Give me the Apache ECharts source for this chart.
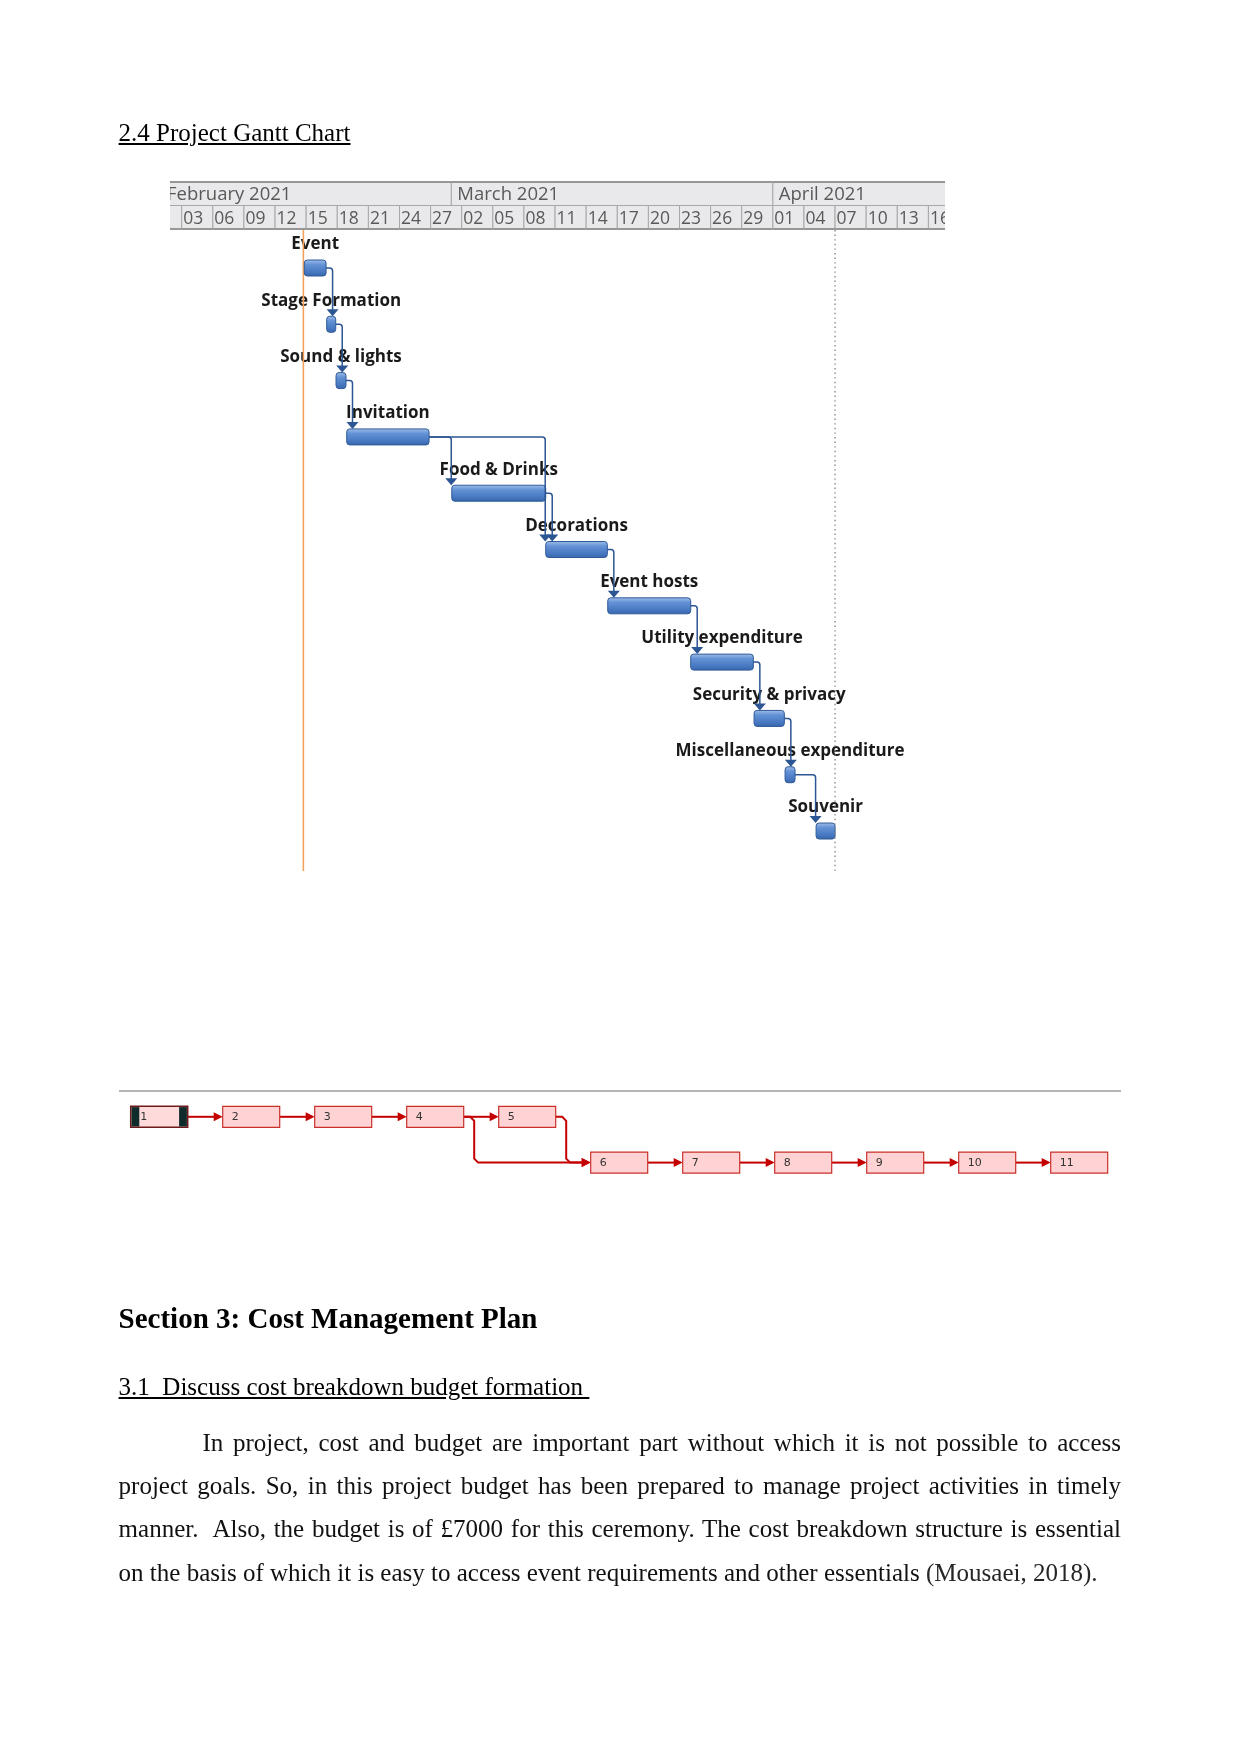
<!DOCTYPE html>
<html>
<head>
<meta charset="utf-8">
<title>2.4 Project Gantt Chart</title>
<script src="https://cdn.jsdelivr.net/npm/echarts@6/dist/echarts.min.js"></script>
<style>
html,body{margin:0;padding:0;background:#fff;}
#page{position:relative;width:1241px;height:1754px;overflow:hidden;background:#fff;}
#chart{position:absolute;left:0;top:0;width:1241px;height:1754px;}
.doc{position:absolute;font-family:"Liberation Serif","Times New Roman",serif;color:#000;white-space:nowrap;}
.pl{position:absolute;font-family:"Liberation Serif","Times New Roman",serif;color:#111;font-size:25px;line-height:30px;text-align:justify;text-align-last:justify;white-space:normal;}
.rule{position:absolute;left:118.6px;top:1090px;width:1002.4px;height:0;border-top:2px solid #b5b5b5;}
</style>
</head>
<body>
<div id="page">
  <div id="chart"></div>
  <div class="doc" style="left:118.6px;top:117.6px;font-size:25px;line-height:30px;text-decoration:underline;">2.4 Project Gantt Chart</div>
  <div class="rule"></div>
  <div class="doc" style="left:118.6px;top:1299.7px;font-size:29px;line-height:36px;font-weight:bold;">Section 3: Cost Management Plan</div>
  <div class="doc" style="left:118.6px;top:1372.1px;font-size:25px;line-height:30px;text-decoration:underline;white-space:pre;">3.1  Discuss cost breakdown budget formation </div>
  <div class="pl" style="left:202.5px;top:1427.6px;width:918.5px;">In project, cost and budget are important part without which it is not possible to access</div>
  <div class="pl" style="left:118.6px;top:1471px;width:1002.4px;">project goals. So, in this project budget has been prepared to manage project activities in timely</div>
  <div class="pl" style="left:118.6px;top:1514.4px;width:1002.4px;">manner.&nbsp; Also, the budget is of £7000 for this ceremony. The cost breakdown structure is essential</div>
  <div class="pl" style="left:118.6px;top:1557.8px;width:1002.4px;text-align:left;text-align-last:left;">on the basis of which it is easy to access event requirements and other essentials <span style="color:#262626;">(Mousaei, 2018).</span></div>
</div>
<script>
// ---------- Gantt data (time in days from 1 Feb 2021 00:00) ----------
const taskNames = ['Event','Stage Formation','Sound & lights','Invitation','Food & Drinks','Decorations','Event hosts','Utility expenditure','Security & privacy','Miscellaneous expenditure','Souvenir'];
const taskStart = [13.82, 15.98, 16.88, 17.91, 28.04, 37.10, 43.08, 51.08, 57.19, 60.18, 63.17];
const taskEnd   = [15.92, 16.85, 17.84, 25.85, 37.10, 43.04, 51.08, 57.12, 60.11, 61.14, 65.00];
const taskLinks = [[0,1],[1,2],[2,3],[3,4],[3,5],[4,5],[5,6],[6,7],[7,8],[8,9],[9,10]];
const currentDay = 13.73;
const finishDay = 65.0;
const viewStart = 0.87;
const viewEnd = 75.6;

// timescale header
const monthStarts = [0, 28, 59];
const monthEnds   = [28, 59, 89];
const monthLabels = ['February 2021','March 2021','April 2021'];
const dayTickStarts = [-1, 2, 5, 8, 11, 14, 17, 20, 23, 26, 29, 32, 35, 38, 41, 44, 47, 50, 53, 56, 59, 62, 65, 68, 71, 74];
const dayTickLabels = ['31','03','06','09','12','15','18','21','24','27','02','05','08','11','14','17','20','23','26','29','01','04','07','10','13','16'];

// ---------- Network diagram data ----------
const nodeLabels = ['1','2','3','4','5','6','7','8','9','10','11'];
const nodeCols   = [0,1,2,3,4,5,6,7,8,9,10];
const nodeRows   = [0,0,0,0,0,1,1,1,1,1,1];
const nodeLinks  = [[0,1],[1,2],[2,3],[3,4],[3,5],[4,5],[5,6],[6,7],[7,8],[8,9],[9,10]];

const chart = echarts.init(document.getElementById('chart'), null, {renderer:'canvas'});

const MONTH_FONT = '18.5px "Open Sans", "DejaVu Sans", sans-serif';
const DAY_FONT = '17.5px "Open Sans", "DejaVu Sans", sans-serif';
const LABEL_FONT = 'bold 17px "Open Sans", "Noto Sans", sans-serif';
const NODE_FONT = '11px "DejaVu Sans", sans-serif';

function headerRender(labels, row, padX, font, dy, topLine, bottomLine) {
  return function (params, api) {
    const x0 = api.coord([api.value(0), row])[0];
    const x1 = api.coord([api.value(1), row])[0];
    const y0 = api.coord([viewStart, row])[1];
    const y1 = api.coord([viewStart, row + 1])[1];
    const children = [
      {type:'rect', shape:{x:x0, y:y0, width:x1-x0, height:y1-y0},
       style:{fill:'#e9e9eb', stroke:'#a8a8a8', lineWidth:1}},
      {type:'text', x:x0+padX, y:(y0+y1)/2+dy,
       style:{text:labels[api.value(2)], font:font, fill:'#595959', align:'left', verticalAlign:'middle'}}
    ];
    if (topLine) children.push({type:'line', shape:{x1:x0, y1:y0+1, x2:x1, y2:y0+1}, style:{stroke:'#969696', lineWidth:2}});
    if (bottomLine) children.push({type:'line', shape:{x1:x0, y1:y1-1, x2:x1, y2:y1-1}, style:{stroke:'#969696', lineWidth:2}});
    return {type:'group', children};
  };
}

const barFill = new echarts.graphic.LinearGradient(0,0,0,1,[
  {offset:0, color:'#a3c0e9'},
  {offset:0.3, color:'#6492d6'},
  {offset:0.75, color:'#4677c0'},
  {offset:1, color:'#3765a9'}
]);

const option = {
  animation:false,
  backgroundColor:'transparent',
  grid:[
    {left:170, top:181, width:775, height:49},
    {left:170, top:230, width:775, height:641},
    {left:159.2, top:1116.8, width:920, height:45.8}
  ],
  xAxis:[
    {type:'value', gridIndex:0, min:viewStart, max:viewEnd, show:false},
    {type:'value', gridIndex:1, min:viewStart, max:viewEnd, show:false},
    {type:'value', gridIndex:2, min:0, max:10, show:false}
  ],
  yAxis:[
    {type:'value', gridIndex:0, min:0, max:2, inverse:true, show:false},
    {type:'value', gridIndex:1, min:-0.675, max:10.71, inverse:true, show:false},
    {type:'value', gridIndex:2, min:0, max:1, inverse:true, show:false}
  ],
  series:[
    {
      type:'custom', name:'Months', xAxisIndex:0, yAxisIndex:0, clip:true, z:2,
      data: monthStarts.map((s,i)=>[s, monthEnds[i], i]),
      renderItem: headerRender(monthLabels, 0, 6, MONTH_FONT, 1.5, true, false)
    },
    {
      type:'custom', name:'Days', xAxisIndex:0, yAxisIndex:0, clip:true, z:2,
      data: dayTickStarts.map((s,i)=>[s, i < dayTickStarts.length-1 ? dayTickStarts[i+1] : s+3, i]),
      renderItem: headerRender(dayTickLabels, 1, 1.5, DAY_FONT, 1, false, true)
    },
    {
      type:'custom', name:'Task names', xAxisIndex:1, yAxisIndex:1, z:2,
      data: taskNames.map((n,i)=>[(taskStart[i]+taskEnd[i])/2, i]),
      renderItem(params, api) {
        const p = api.coord([api.value(0), api.value(1)]);
        return {type:'text', x:p[0], y:p[1]-23.5,
          style:{text:taskNames[params.dataIndex], font:LABEL_FONT, fill:'#1a1a1a', align:'center', verticalAlign:'middle'}};
      }
    },
    {
      type:'custom', name:'Current date', xAxisIndex:1, yAxisIndex:1, z:3,
      data:[[currentDay, 0]],
      renderItem(params, api) {
        const cs = params.coordSys;
        const x = api.coord([api.value(0), 0])[0];
        return {type:'line', shape:{x1:x, y1:cs.y, x2:x, y2:cs.y+cs.height}, style:{stroke:'#f2a25c', lineWidth:1.6}};
      }
    },
    {
      type:'custom', name:'Tasks', xAxisIndex:1, yAxisIndex:1, z:4,
      data: taskNames.map((n,i)=>[taskStart[i], i, taskEnd[i]]),
      renderItem(params, api) {
        const a = api.coord([api.value(0), api.value(1)]);
        const b = api.coord([api.value(2), api.value(1)]);
        return {type:'rect', shape:{x:a[0], y:a[1]-8, width:b[0]-a[0], height:16, r:3},
          style:{fill:barFill, stroke:'#2f5b98', lineWidth:1}};
      }
    },
    {
      type:'custom', name:'Links', xAxisIndex:1, yAxisIndex:1, z:5,
      data: taskLinks.map(l=>[l[0], l[1]]),
      renderItem(params, api) {
        const p = api.value(0), s = api.value(1);
        const e = api.coord([taskEnd[p], p]);
        const st = api.coord([taskStart[s], s]);
        const xv = Math.max(e[0] + 6.5, st[0] - 0.5);
        const yc = e[1];
        const yTop = st[1] - 8;
        const ya = yTop - 7;
        const r = 3;
        const d = 'M' + e[0] + ' ' + yc + ' L' + (xv - r) + ' ' + yc +
                  ' Q' + xv + ' ' + yc + ' ' + xv + ' ' + (yc + r) + ' L' + xv + ' ' + (ya + 1);
        return {type:'group', children:[
          {type:'path', shape:{pathData:d}, style:{fill:null, stroke:'#2c5693', lineWidth:1.5}},
          {type:'polygon', shape:{points:[[xv-6, ya],[xv+6, ya],[xv, yTop]]}, style:{fill:'#2c5693'}}
        ]};
      }
    },
    {
      type:'custom', name:'Project finish', xAxisIndex:1, yAxisIndex:1, z:6,
      data:[[finishDay, 0]],
      renderItem(params, api) {
        const cs = params.coordSys;
        const x = api.coord([api.value(0), 0])[0];
        return {type:'line', shape:{x1:x, y1:cs.y, x2:x, y2:cs.y+cs.height}, style:{stroke:'#8a8a8a', lineWidth:1.4, lineDash:[1.4, 3.2]}};
      }
    },
    {
      type:'custom', name:'Network links', xAxisIndex:2, yAxisIndex:2, z:3,
      data: nodeLinks.map(l=>[l[0], l[1]]),
      renderItem(params, api) {
        const a = api.value(0), b = api.value(1);
        const pa = api.coord([nodeCols[a], nodeRows[a]]);
        const pb = api.coord([nodeCols[b], nodeRows[b]]);
        const hw = 28.5;
        const xs = pa[0] + hw, xe = pb[0] - hw;
        let d;
        if (nodeRows[a] === nodeRows[b]) {
          d = 'M' + xs + ' ' + pa[1] + ' L' + (xe - 8) + ' ' + pb[1];
        } else {
          const xv = xs + 10.5, k = 4;
          d = 'M' + xs + ' ' + pa[1] + ' L' + (xv - k) + ' ' + pa[1] + ' L' + xv + ' ' + (pa[1] + k) +
              ' L' + xv + ' ' + (pb[1] - k) + ' L' + (xv + k) + ' ' + pb[1] + ' L' + (xe - 8) + ' ' + pb[1];
        }
        return {type:'group', children:[
          {type:'path', shape:{pathData:d}, style:{fill:null, stroke:'#c40000', lineWidth:2}},
          {type:'polygon', shape:{points:[[xe-9, pb[1]-4.5],[xe, pb[1]],[xe-9, pb[1]+4.5]]}, style:{fill:'#c40000'}}
        ]};
      }
    },
    {
      type:'custom', name:'Network nodes', xAxisIndex:2, yAxisIndex:2, z:4,
      data: nodeLabels.map((l,i)=>[nodeCols[i], nodeRows[i]]),
      renderItem(params, api) {
        const c = api.coord([api.value(0), api.value(1)]);
        const w = 57, h = 21;
        const x = c[0] - w/2, y = c[1] - h/2;
        const i = params.dataIndex;
        const children = [];
        if (i === 0) {
          children.push({type:'rect', shape:{x, y, width:w, height:h}, style:{fill:'#ffdada', stroke:'#6e1a1a', lineWidth:1.5}});
          children.push({type:'rect', shape:{x:x+0.8, y:y+0.8, width:7.8, height:h-1.6}, style:{fill:'#0f2b2b'}});
          children.push({type:'rect', shape:{x:x+w-8.6, y:y+0.8, width:7.8, height:h-1.6}, style:{fill:'#0f2b2b'}});
        } else {
          children.push({type:'rect', shape:{x, y, width:w, height:h}, style:{fill:'#ffd3d3', stroke:'#c9302c', lineWidth:1.2}});
        }
        children.push({type:'text', x:x + (i === 0 ? 9.5 : 9), y:c[1] + 0.5,
          style:{text:nodeLabels[i], font:NODE_FONT, fill:'#333', align:'left', verticalAlign:'middle'}});
        return {type:'group', children};
      }
    }
  ]
};
chart.setOption(option);
</script>
</body>
</html>
